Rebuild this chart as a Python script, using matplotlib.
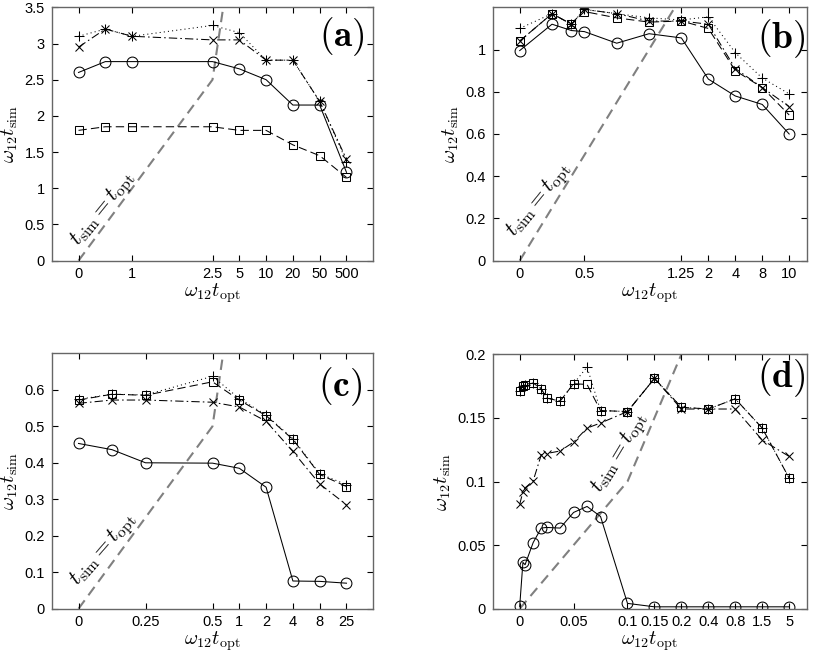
import numpy as np
import matplotlib
matplotlib.use("Agg")
import matplotlib.pyplot as plt

plt.rcParams.update({
    "font.family": ["Liberation Sans", "DejaVu Sans"],
    "mathtext.fontset": "cm",
    "font.size": 10.5,
})

# ---- panel (a) ----
A_X = [0, 0.5, 1, 2.5, 5, 10, 20, 50, 500]
A_CIRC = [2.6, 2.75, 2.75, 2.75, 2.65, 2.5, 2.15, 2.15, 1.22]
A_SQ = [1.8, 1.85, 1.85, 1.85, 1.8, 1.8, 1.6, 1.45, 1.15]
A_CROSS = [2.95, 3.2, 3.1, 3.05, 3.05, 2.77, 2.77, 2.2, 1.4]
A_PLUS = [3.1, 3.2, 3.1, 3.25, 3.15, 2.77, 2.77, 2.2, 1.37]
A_TICKS = [0, 1, 2.5, 5, 10, 20, 50, 500]
A_TICKLABELS = ["0", "1", "2.5", "5", "10", "20", "50", "500"]
A_BREAKS = [0, 2.5, 5, 10, 20, 50, 500]
A_SLOTS = [0, 5, 6, 7, 8, 9, 10]

# ---- panel (b) ----
B_X = [0, 0.25, 0.4, 0.5, 0.75, 1.0, 1.25, 2, 4, 8, 10]
B_CIRC = [0.995, 1.12, 1.09, 1.085, 1.03, 1.075, 1.055, 0.86, 0.78, 0.74, 0.60]
B_SQ = [1.04, 1.17, 1.12, 1.18, 1.15, 1.13, 1.135, 1.10, 0.90, 0.82, 0.69]
B_CROSS = [1.04, 1.17, 1.12, 1.19, 1.17, 1.135, 1.135, 1.12, 0.91, 0.82, 0.73]
B_PLUS = [1.10, 1.17, 1.12, 1.19, 1.17, 1.15, 1.14, 1.155, 0.985, 0.865, 0.79]
B_TICKS = [0, 0.5, 1.25, 2, 4, 8, 10]
B_TICKLABELS = ["0", "0.5", "1.25", "2", "4", "8", "10"]
B_BREAKS = [0, 1.25, 2, 4, 8, 10]
B_SLOTS = [0, 6, 7, 8, 9, 10]

# ---- panel (c) ----
C_X = [0, 0.125, 0.25, 0.5, 1, 2, 4, 8, 25]
C_CIRC = [0.453, 0.436, 0.40, 0.399, 0.385, 0.333, 0.076, 0.075, 0.07]
C_SQ = [0.572, 0.588, 0.585, 0.622, 0.572, 0.529, 0.464, 0.368, 0.335]
C_CROSS = [0.563, 0.572, 0.572, 0.566, 0.553, 0.514, 0.431, 0.342, 0.285]
C_PLUS = [0.574, 0.588, 0.586, 0.637, 0.576, 0.531, 0.466, 0.370, 0.340]
C_TICKS = [0, 0.25, 0.5, 1, 2, 4, 8, 25]
C_TICKLABELS = ["0", "0.25", "0.5", "1", "2", "4", "8", "25"]
C_BREAKS = [0, 0.5, 1, 2, 4, 8, 25]
C_SLOTS = [0, 5, 6, 7, 8, 9, 10]

# ---- panel (d) ----
D_X = [0, 0.003, 0.005, 0.0125, 0.02, 0.025, 0.0375, 0.05, 0.0625, 0.075,
       0.1, 0.15, 0.2, 0.4, 0.8, 1.5, 5]
D_CIRC = [0.0018, 0.0364, 0.0346, 0.052, 0.0634, 0.0639, 0.0634, 0.0757, 0.0804,
          0.0725, 0.0042, 0.0015, 0.0015, 0.0015, 0.0015, 0.0015, 0.0015]
D_SQ = [0.1708, 0.175, 0.176, 0.1774, 0.173, 0.1656, 0.1632, 0.1769, 0.1763,
        0.1558, 0.155, 0.181, 0.1584, 0.157, 0.165, 0.142, 0.1026]
D_CROSS = [0.082, 0.092, 0.095, 0.1005, 0.121, 0.122, 0.124, 0.131, 0.142,
           0.146, 0.155, 0.181, 0.157, 0.157, 0.157, 0.1326, 0.1197]
D_PLUS = [0.1708, 0.175, 0.176, 0.1774, 0.173, 0.1656, 0.1632, 0.1769, 0.19,
          0.1558, 0.155, 0.181, 0.1584, 0.157, 0.165, 0.142, 0.1026]
D_TICKS = [0, 0.05, 0.1, 0.15, 0.2, 0.4, 0.8, 1.5, 5]
D_TICKLABELS = ["0", "0.05", "0.1", "0.15", "0.2", "0.4", "0.8", "1.5", "5"]
D_BREAKS = [0, 0.1, 0.15, 0.2, 0.4, 0.8, 1.5, 5]
D_SLOTS = [0, 4, 5, 6, 7, 8, 9, 10]


def piecewise(src, dst):
    src = np.asarray(src, float)
    dst = np.asarray(dst, float)

    def f(x):
        x = np.asarray(x, float)
        y = np.interp(x, src, dst)
        lo = dst[0] + (x - src[0]) * (dst[1] - dst[0]) / (src[1] - src[0])
        hi = dst[-1] + (x - src[-1]) * (dst[-1] - dst[-2]) / (src[-1] - src[-2])
        return np.where(x < src[0], lo, np.where(x > src[-1], hi, y))
    return f


def draw_panel(rect, label, label_xy, x, circ, sq, cross, plus, ticks, ticklabels,
               breaks, slots, slot_lim, ylim, yticks, text_xy, text_rot):
    ax = fig.add_axes(rect)
    fwd = piecewise(breaks, slots)
    inv = piecewise(slots, breaks)
    ax.set_xscale("function", functions=(fwd, inv))

    # reference line t_sim = t_opt
    b = np.asarray(breaks, float)
    ref = np.append(b[b < ylim[1]], ylim[1])
    ax.plot(ref, ref, color="0.5", lw=1.5, ls=(0, (5, 3)), zorder=1)

    kw = dict(color="black", lw=0.75, mfc="none", mec="black", mew=0.75)
    ax.plot(x, circ, marker="o", ms=7.8, ls="-", **kw)
    ax.plot(x, sq, marker="s", ms=5.5, ls=(0, (8, 4)), **kw)
    ax.plot(x, cross, marker="x", ms=5.5, ls=(0, (8, 3, 1.5, 3)), **kw)
    ax.plot(x, plus, marker="+", ms=7, ls=(0, (1, 3)), **kw)

    ax.set_xlim(float(inv(slot_lim[0])), float(inv(slot_lim[1])))
    ax.set_ylim(*ylim)
    ax.set_xticks(ticks, ticklabels)
    ax.set_yticks(yticks, [f"{v:g}" for v in yticks])
    ax.minorticks_off()
    ax.tick_params(direction="in", top=True, right=True, length=4, width=0.8,
                   labelsize=10.5, pad=5)
    ax.tick_params(axis="x", pad=4.5)
    for s in ax.spines.values():
        s.set_color("0.4")
        s.set_linewidth(1.0)

    ax.set_xlabel(r"$\omega_{12}t_{\rm opt}$", fontsize=14.5, labelpad=0)
    ax.set_ylabel(r"$\omega_{12}t_{\rm sim}$", fontsize=14.5, labelpad=3)
    ax.text(label_xy[0], label_xy[1], r"$\mathbf{" + label + "}$", transform=ax.transAxes,
            ha="right", va="center", fontsize=27)
    ax.text(text_xy[0], text_xy[1], r"$t_{\rm sim} = t_{\rm opt}$", fontsize=16,
            rotation=text_rot, ha="center", va="center", rotation_mode="anchor")
    return ax


fig = plt.figure(figsize=(8.17, 6.53), dpi=100)

draw_panel([0.0633, 0.6008, 0.3936, 0.3880], "(a)", (0.975, 0.885),
           A_X, A_CIRC, A_SQ, A_CROSS, A_PLUS, A_TICKS, A_TICKLABELS,
           A_BREAKS, A_SLOTS, (-1, 11), (0, 3.5), np.arange(0, 3.51, 0.5),
           (0.45, 0.71), 51)
draw_panel([0.6031, 0.6008, 0.3843, 0.3880], "(b)", (0.995, 0.878),
           B_X, B_CIRC, B_SQ, B_CROSS, B_PLUS, B_TICKS, B_TICKLABELS,
           B_BREAKS, B_SLOTS, (-1, 10.65), (0, 1.2), np.arange(0, 1.01, 0.2),
           (0.15, 0.287), 51)
draw_panel([0.0633, 0.0678, 0.3936, 0.3911], "(c)", (0.965, 0.869),
           C_X, C_CIRC, C_SQ, C_CROSS, C_PLUS, C_TICKS, C_TICKLABELS,
           C_BREAKS, C_SLOTS, (-1, 11), (0, 0.7), np.arange(0, 0.61, 0.1),
           (0.094, 0.162), 49)
draw_panel([0.6031, 0.0678, 0.3843, 0.3896], "(d)", (0.997, 0.907),
           D_X, D_CIRC, D_SQ, D_CROSS, D_PLUS, D_TICKS, D_TICKLABELS,
           D_BREAKS, D_SLOTS, (-1, 10.65), (0, 0.2), np.arange(0, 0.201, 0.05),
           (0.093, 0.1225), 59)

fig.savefig("out.png", dpi=100)
